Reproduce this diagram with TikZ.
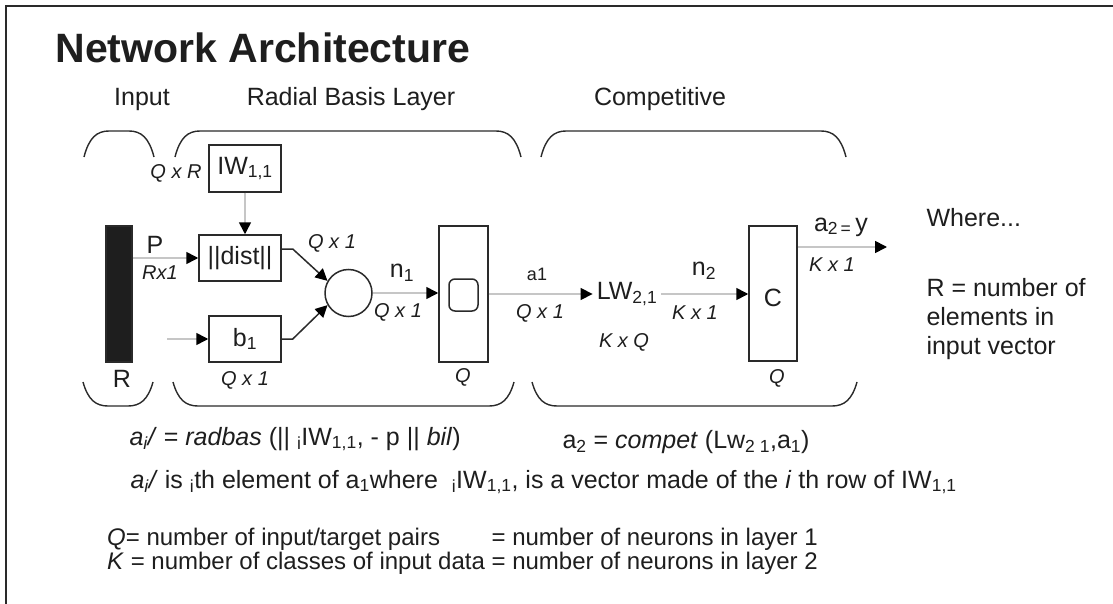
\documentclass[tikz,border=0pt]{standalone}
\usepackage{fontspec}
\setmainfont{Liberation Sans}
\usetikzlibrary{arrows.meta, positioning, calc}
\definecolor{inkcol}{HTML}{1E1E1E}
\definecolor{linecol}{HTML}{2A2A2A}
\definecolor{conncol}{HTML}{C6C6C6}
\tikzset{
  box/.style={draw=linecol, line width=1.5pt, fill=white, inner sep=0pt},
  conn/.style={draw=conncol, line width=1.6pt, -{Triangle[length=12pt, width=12pt, color=black]}},
  feed/.style={draw=linecol, line width=1.5pt, -{Triangle[length=12pt, width=12pt, color=black]}},
  lbl/.style={font=\fontsize{25}{29}\selectfont},
  dim/.style={font=\fontsize{20}{24}\selectfont\itshape},
  brace/.style={draw=linecol, line width=1.4pt}
}
% #1,#2: left and right end, #3: y of the ends, #4: y of the flat part
\newcommand{\layerbrace}[4]{%
  \draw[brace] (#1,#3) .. controls +(5,{0.75*(#4-#3)}) and +(-12,0) .. (#1+25,#4)
    -- (#2-25,#4) .. controls +(12,0) and +(-5,{0.75*(#4-#3)}) .. (#2,#3);
}

\begin{document}
\begin{tikzpicture}[x=1pt, y=-1pt, font=\fontsize{25}{29}\selectfont, text=inkcol]
        \useasboundingbox (0,0) rectangle (1113,604);
        \fill[white] (0,0) rectangle (1113,604);

        % Frame and title
        \draw[line width=2pt, linecol] (6,604) -- (6,6) -- (1113,6);
        \node[anchor=west, font=\bfseries\fontsize{41}{48}\selectfont] (title) at (52,48) {Network Architecture};

        % Layer headings and braces
        \node[lbl] (hinput)  at (142,99) {Input};
        \node[lbl] (hradial) at (351,99) {Radial Basis Layer};
        \node[lbl] (hcompet) at (660,99) {Competitive};
        \layerbrace{84}{154}{157}{131}
        \layerbrace{175}{521}{157}{131}
        \layerbrace{541}{846}{157}{131}
        \layerbrace{83}{153}{382}{406}
        \layerbrace{173}{514}{382}{406}
        \layerbrace{532}{857}{382}{406}

        % Blocks
        \node[box, fill=inkcol, minimum width=26, minimum height=136] (bar) at (119,294) {};
        \node[box, minimum width=72, minimum height=47] (iw)   at (245,168.5) {IW\textsubscript{1,1}};
        \node[box, minimum width=82, minimum height=46] (dist) at (240,258) {||dist||};
        \node[box, minimum width=72, minimum height=46] (bias) at (245,339) {b\textsubscript{1}};
        \node[box, circle, minimum size=47] (sum) at (348.5,293) {};
        \node[box, minimum width=49, minimum height=136] (rb) at (463.5,294) {};
        \node[box, rounded corners=6pt, minimum width=29, minimum height=32] (rbicon) at (463.5,295) {};
        \node[lbl, inner sep=4pt] (lw) at (627,294) {LW\textsubscript{2,1}};
        \node[box, minimum width=48, minimum height=135] (cmp) at (773,293.5) {};
        \node[lbl] (cmptext) at (773,298) {C};
        \coordinate (bin) at (167,339);
        \coordinate (out) at (887,247);

        % Connectors
        \draw[conn] (bar.east |- dist.west) -- (dist.west);
        \draw[conn] (iw.south) -- (iw.south |- dist.north);
        \draw[conn] (bin) -- (bias.west);
        \draw[feed] ($(dist.east)+(0,-9)$) -- ++(11,0) -- (sum.150);
        \draw[feed] (bias.east) -- ++(11,0) -- (sum.210);
        \draw[conn] (sum.east) -- (rb.west |- sum.east);
        \draw[conn] (rb.east |- lw.west) -- (lw.west);
        \draw[conn] (lw.east) -- (cmp.west |- lw.east);
        \draw[conn] (cmp.east |- out) -- (out);

        % Sizes and signals
        \node[dim] (dimiw)   at (176,173) {Q x R};
        \node[lbl] (sigp)    at (155,245) {P};
        \node[dim] (dimp)    at (160,273) {Rx1};
        \node[dim] (dimdist) at (332,243) {Q x 1};
        \node[lbl] (sign1)   at (402,273) {n\textsubscript{1}};
        \node[dim] (dimn1)   at (398,312) {Q x 1};
        \node[dim] (dimb)    at (245,380) {Q x 1};
        \node[lbl] (sizer)   at (122,379) {R};
        \node[dim] (sizeq1)  at (463,377) {Q};
        \node[font=\fontsize{18}{20}\selectfont] (siga1) at (537,274) {a1};
        \node[dim] (dima1)   at (540,313) {Q x 1};
        \node[dim] (dimlw)   at (624,342) {K x Q};
        \node[lbl] (sign2)   at (704,271) {n\textsubscript{2}};
        \node[dim] (dimn2)   at (695,313) {K x 1};
        \node[lbl] (sigout)  at (841,227) {a\textsubscript{2\,=}\,y};
        \node[dim] (dimout)  at (832,265) {K x 1};
        \node[dim] (sizeq2)  at (777,378) {Q};

        % Notes
        \node[lbl, anchor=west] (where) at (923,218) {Where...};
        \node[lbl, anchor=west, align=left] (rnote) at (923,319) {R = number of\\elements in\\input vector};
        \node[lbl, anchor=west] (eqrb) at (126,439)
          {\textit{a\textsubscript{i}/} = \textit{radbas} (|| \textsubscript{i}IW\textsubscript{1,1}, - p || \textit{bil})};
        \node[lbl, anchor=west] (eqc) at (559,442)
          {a\textsubscript{2} = \textit{compet} (Lw\textsubscript{2 1},a\textsubscript{1})};
        \node[lbl, anchor=west] (elem) at (127,482)
          {\textit{a\textsubscript{i}/} is \textsubscript{i}th element of a\textsubscript{1}where \ \textsubscript{i}IW\textsubscript{1,1}, is a vector made of the \textit{i} th row of IW\textsubscript{1,1}};
        \node[font=\fontsize{24}{21}\selectfont, anchor=west, inner sep=0pt] (defs) at (107,552)
          {\begin{tabular}{@{}l@{\ }l@{}}
             \textit{Q}= number of input/target pairs & = number of neurons in layer 1\\
             \textit{K} = number of classes of input data & = number of neurons in layer 2
           \end{tabular}};
    \end{tikzpicture}
\end{document}
